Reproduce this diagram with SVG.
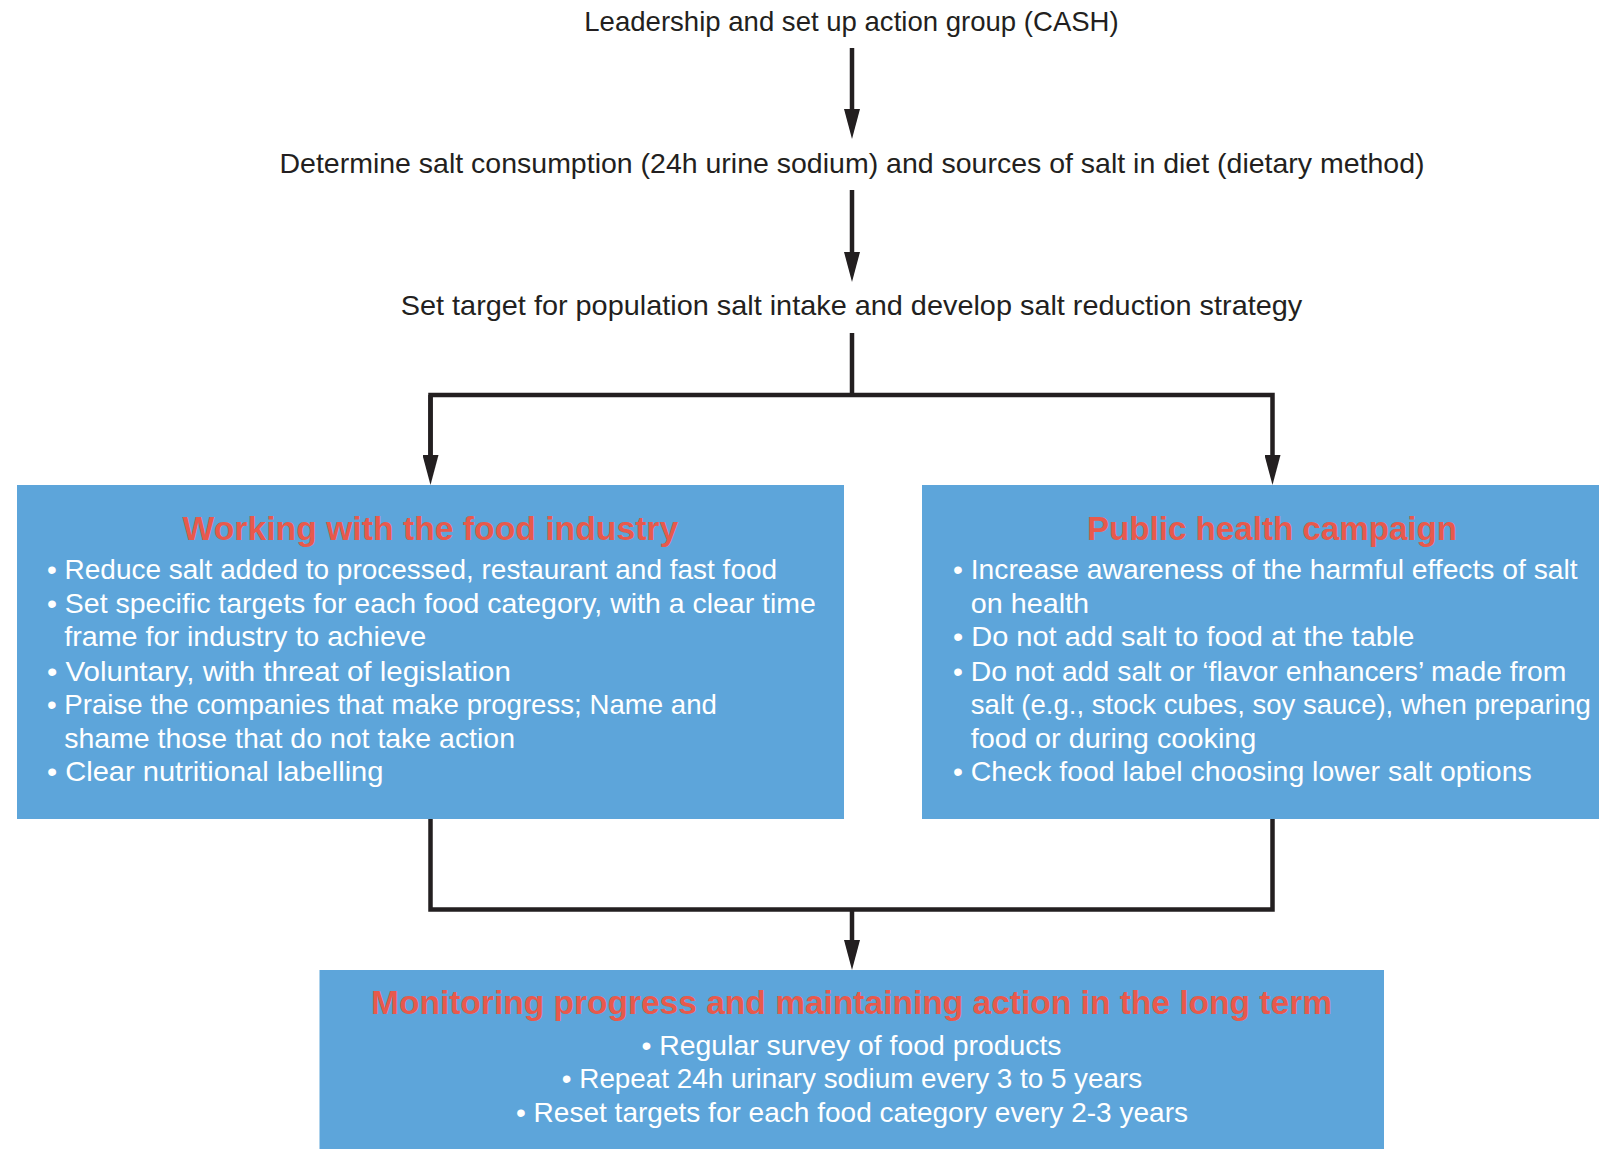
<svg xmlns="http://www.w3.org/2000/svg" width="1599" height="1149" viewBox="0 0 1599 1149">
<style>
.step{font-family:"Liberation Sans",Arial,sans-serif;font-size:28px;fill:#231F20;text-anchor:middle}
.box{fill:#5DA5DA}
.title{font-family:"Liberation Sans",Arial,sans-serif;font-size:34px;font-weight:bold;fill:#E8594C;text-anchor:middle}
.body{font-family:"Liberation Sans",Arial,sans-serif;font-size:28px;fill:#FFFFFF}
.mid{text-anchor:middle}
.conn{fill:none;stroke:#231F20;stroke-width:4.5}
</style>
<defs>
<marker id="ah" markerUnits="userSpaceOnUse" markerWidth="30" markerHeight="16" refX="15" refY="8" orient="auto" viewBox="0 0 30 16">
<path d="M0,0 L30,8 L0,16 Z" fill="#231F20"/>
</marker>
</defs>
<rect width="1599" height="1149" fill="#FFFFFF"/>

<g id="connectors">
<line class="conn" x1="852" y1="48" x2="852" y2="124" marker-end="url(#ah)"/>
<line class="conn" x1="852" y1="190" x2="852" y2="267" marker-end="url(#ah)"/>
<polyline class="conn" points="852,333 852,395"/>
<polyline class="conn" points="430.5,470 430.5,395 1272.5,395 1272.5,470" marker-end="url(#ah)"/>
<line class="conn" x1="430.5" y1="395" x2="430.5" y2="470" marker-end="url(#ah)"/>
<polyline class="conn" points="430.5,819 430.5,909.5 1272.5,909.5 1272.5,819"/>
<line class="conn" x1="852" y1="909.5" x2="852" y2="955" marker-end="url(#ah)"/>
</g>

<g id="node-leadership">
<text class="step" x="851.5" y="31" textLength="534.4" lengthAdjust="spacingAndGlyphs">Leadership and set up action group (CASH)</text>
</g>
<g id="node-determine">
<text class="step" x="852" y="173" textLength="1145" lengthAdjust="spacingAndGlyphs">Determine salt consumption (24h urine sodium) and sources of salt in diet (dietary method)</text>
</g>
<g id="node-target">
<text class="step" x="851.5" y="315" textLength="901.5" lengthAdjust="spacingAndGlyphs">Set target for population salt intake and develop salt reduction strategy</text>
</g>

<g id="node-industry">
<rect class="box" x="17" y="485" width="827" height="334"/>
<text class="title" x="430.4" y="540" textLength="495.7" lengthAdjust="spacingAndGlyphs">Working with the food industry</text>
<text class="body" x="47" y="579" textLength="730.1" lengthAdjust="spacingAndGlyphs">• Reduce salt added to processed, restaurant and fast food</text>
<text class="body" x="47" y="613" textLength="768.8" lengthAdjust="spacingAndGlyphs">• Set specific targets for each food category, with a clear time</text>
<text class="body" x="64.2" y="646" textLength="362" lengthAdjust="spacingAndGlyphs">frame for industry to achieve</text>
<text class="body" x="47" y="681" textLength="463.9" lengthAdjust="spacingAndGlyphs">• Voluntary, with threat of legislation</text>
<text class="body" x="47" y="714" textLength="669.9" lengthAdjust="spacingAndGlyphs">• Praise the companies that make progress; Name and</text>
<text class="body" x="64.2" y="748" textLength="450.8" lengthAdjust="spacingAndGlyphs">shame those that do not take action</text>
<text class="body" x="47" y="781" textLength="336.4" lengthAdjust="spacingAndGlyphs">• Clear nutritional labelling</text>
</g>

<g id="node-campaign">
<rect class="box" x="922" y="485" width="677" height="334"/>
<text class="title" x="1272" y="540" textLength="370" lengthAdjust="spacingAndGlyphs">Public health campaign</text>
<text class="body" x="953" y="579" textLength="624.6" lengthAdjust="spacingAndGlyphs">• Increase awareness of the harmful effects of salt</text>
<text class="body" x="970.8" y="613" textLength="118.3" lengthAdjust="spacingAndGlyphs">on health</text>
<text class="body" x="953" y="646" textLength="461.5" lengthAdjust="spacingAndGlyphs">• Do not add salt to food at the table</text>
<text class="body" x="953" y="681" textLength="613.4" lengthAdjust="spacingAndGlyphs">• Do not add salt or ‘flavor enhancers’ made from</text>
<text class="body" x="970.8" y="714" textLength="620" lengthAdjust="spacingAndGlyphs">salt (e.g., stock cubes, soy sauce), when preparing</text>
<text class="body" x="970.8" y="748" textLength="285.6" lengthAdjust="spacingAndGlyphs">food or during cooking</text>
<text class="body" x="953" y="781" textLength="578.7" lengthAdjust="spacingAndGlyphs">• Check food label choosing lower salt options</text>
</g>

<g id="node-monitoring">
<rect class="box" x="319.5" y="970" width="1064.5" height="179"/>
<text class="title" x="851.5" y="1014" textLength="961" lengthAdjust="spacingAndGlyphs">Monitoring progress and maintaining action in the long term</text>
<text class="body mid" x="851.5" y="1055" textLength="420" lengthAdjust="spacingAndGlyphs">• Regular survey of food products</text>
<text class="body mid" x="852" y="1088" textLength="580.3" lengthAdjust="spacingAndGlyphs">• Repeat 24h urinary sodium every 3 to 5 years</text>
<text class="body mid" x="852" y="1122" textLength="672" lengthAdjust="spacingAndGlyphs">• Reset targets for each food category every 2-3 years</text>
</g>
</svg>
